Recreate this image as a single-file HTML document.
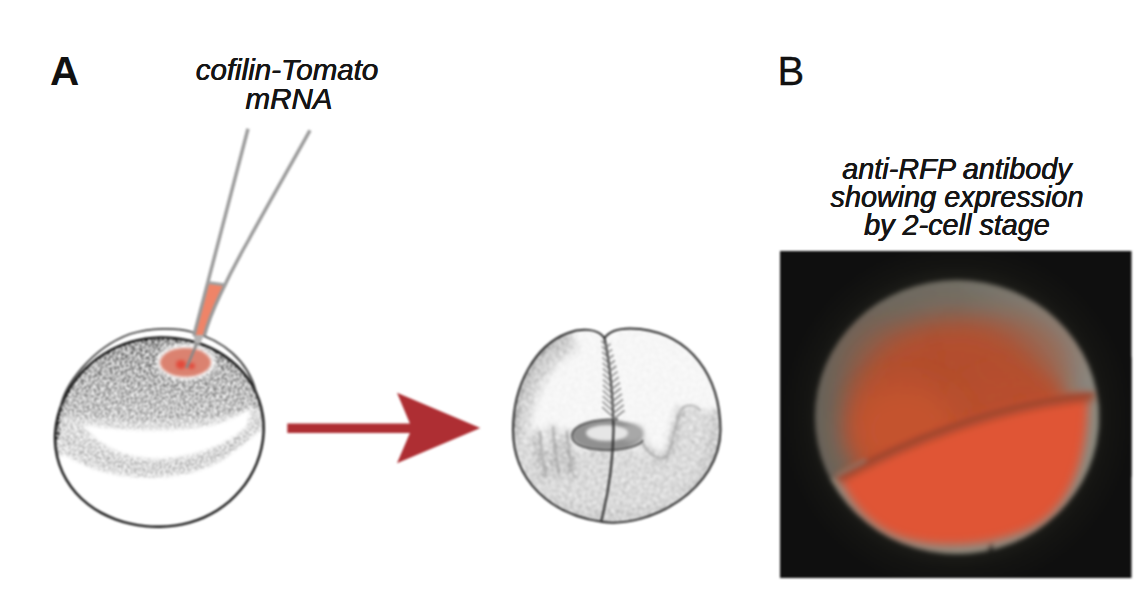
<!DOCTYPE html>
<html><head><meta charset="utf-8">
<style>
html,body{margin:0;padding:0;background:#fff;}
body{width:1148px;height:612px;overflow:hidden;position:relative;font-family:"Liberation Sans",sans-serif;}
.lbl{position:absolute;font-weight:bold;font-size:40.5px;line-height:40px;color:#111;}
.cap{position:absolute;font-style:italic;font-size:28.8px;line-height:28.3px;color:#151515;text-align:center;white-space:nowrap;text-shadow:0.3px 0 0 #151515,-0.3px 0 0 #151515;}
svg{position:absolute;left:0;top:0;filter:blur(0.8px);}
</style></head>
<body>
<svg width="1148" height="612" viewBox="0 0 1148 612">
<defs>
  <filter id="stip" filterUnits="userSpaceOnUse" x="40" y="300" width="700" height="240" color-interpolation-filters="sRGB">
    <feGaussianBlur in="SourceGraphic" stdDeviation="1.8" result="d"/>
    <feTurbulence type="fractalNoise" baseFrequency="0.55" numOctaves="1" seed="4" result="n0"/>
    <feColorMatrix in="n0" type="matrix" values="2.6 0 0 0 -0.8  2.6 0 0 0 -0.8  2.6 0 0 0 -0.8  0 0 0 0 1" result="n"/>
    <feComposite in="d" in2="n" operator="arithmetic" k1="-3.2" k2="2.6" k3="3.2" k4="-1.6" result="s"/>
    
  </filter>
  <filter id="stip2" filterUnits="userSpaceOnUse" x="40" y="300" width="700" height="240" color-interpolation-filters="sRGB">
    <feGaussianBlur in="SourceGraphic" stdDeviation="3.5" result="d"/>
    <feTurbulence type="fractalNoise" baseFrequency="0.55" numOctaves="1" seed="4" result="n0"/>
    <feColorMatrix in="n0" type="matrix" values="2.6 0 0 0 -0.8  2.6 0 0 0 -0.8  2.6 0 0 0 -0.8  0 0 0 0 1" result="n"/>
    <feComposite in="d" in2="n" operator="arithmetic" k1="-3.2" k2="2.6" k3="3.2" k4="-1.6" result="s"/>
    <feGaussianBlur in="s" stdDeviation="0.8"/>
  </filter>
  <linearGradient id="e1g" x1="0" y1="335" x2="0" y2="422" gradientUnits="userSpaceOnUse">
    <stop offset="0" stop-color="#a8a8a8"/><stop offset="0.5" stop-color="#bcbcbc"/><stop offset="1" stop-color="#cccccc"/>
  </linearGradient>
  <clipPath id="egg1"><path d="M55.2 432.0 C55.6 426.5 56.5 421.1 57.9 415.8 C59.2 410.6 61.0 405.4 63.2 400.6 C65.4 395.7 68.0 391.0 70.8 386.6 C73.7 382.2 76.9 378.0 80.3 374.1 C83.7 370.2 87.5 366.6 91.3 363.3 C95.2 360.0 99.3 357.0 103.6 354.3 C107.8 351.6 112.2 349.2 116.8 347.2 C121.3 345.1 126.0 343.4 130.7 342.0 C135.5 340.6 140.4 339.5 145.2 338.7 C150.1 338.0 155.1 337.6 160.0 337.4 C164.9 337.3 169.9 337.5 174.9 338.1 C179.8 338.6 184.8 339.5 189.7 340.6 C194.6 341.8 199.5 343.3 204.2 345.2 C209.0 347.1 213.7 349.3 218.2 351.9 C222.7 354.5 227.1 357.5 231.2 360.8 C235.3 364.1 239.2 367.9 242.7 371.9 C246.2 376.0 249.4 380.4 252.1 385.1 C254.8 389.7 257.1 394.8 258.9 399.9 C260.7 405.0 262.0 410.4 262.8 415.7 C263.6 421.1 263.8 426.6 263.6 432.0 C263.4 437.4 262.7 442.8 261.5 448.1 C260.4 453.3 258.7 458.5 256.7 463.4 C254.7 468.3 252.3 473.1 249.5 477.6 C246.8 482.1 243.7 486.4 240.3 490.3 C236.9 494.3 233.2 498.0 229.4 501.4 C225.5 504.7 221.3 507.8 217.0 510.5 C212.7 513.2 208.2 515.5 203.6 517.6 C199.0 519.6 194.2 521.2 189.4 522.6 C184.6 523.9 179.7 524.9 174.8 525.6 C169.9 526.3 165.0 526.7 160.0 526.7 C155.0 526.8 150.1 526.6 145.1 526.1 C140.1 525.5 135.2 524.7 130.2 523.6 C125.3 522.5 120.4 521.1 115.5 519.3 C110.7 517.5 105.9 515.4 101.3 512.9 C96.6 510.3 92.1 507.4 87.9 504.1 C83.7 500.8 79.6 497.1 76.0 493.0 C72.4 489.0 69.1 484.5 66.3 479.7 C63.5 475.0 61.2 469.9 59.4 464.7 C57.6 459.5 56.4 454.0 55.7 448.5 C55.0 443.1 54.8 437.5 55.2 432.0 Z"/></clipPath>
  <clipPath id="egg2"><path d="M604.5 338 C598 328 580 328 568 333 C535 345 513 385 513 430 C513 480 550 515 603 522 C650 528 720 490 720.5 430 C720 375 690 335 640 329 C622 327 610 330 604.5 338 Z"/></clipPath>
  <filter id="b1" x="-50%" y="-50%" width="200%" height="200%"><feGaussianBlur stdDeviation="1"/></filter>
  <filter id="b15" x="-20%" y="-20%" width="140%" height="140%"><feGaussianBlur stdDeviation="1.5"/></filter>
  <filter id="b2" x="-50%" y="-50%" width="200%" height="200%"><feGaussianBlur stdDeviation="2"/></filter>
  <filter id="b4" x="-50%" y="-50%" width="200%" height="200%"><feGaussianBlur stdDeviation="4"/></filter>
  <filter id="b8" x="-50%" y="-50%" width="200%" height="200%"><feGaussianBlur stdDeviation="8"/></filter>
  <filter id="b14" x="-50%" y="-50%" width="200%" height="200%"><feGaussianBlur stdDeviation="14"/></filter>
  <clipPath id="pegg"><ellipse cx="957" cy="417" rx="142" ry="137"/></clipPath>
  <linearGradient id="rimg" x1="815" y1="0" x2="1099" y2="0" gradientUnits="userSpaceOnUse">
    <stop offset="0" stop-color="#68645b"/><stop offset="0.5" stop-color="#726e64"/><stop offset="1" stop-color="#8c8a82"/>
  </linearGradient>
  <filter id="b22" x="-20%" y="-20%" width="140%" height="140%"><feGaussianBlur stdDeviation="2.2"/></filter>
  <radialGradient id="glow" cx="957" cy="417" r="185" gradientUnits="userSpaceOnUse">
    <stop offset="0.74" stop-color="#1c1c18"/><stop offset="0.82" stop-color="#141412"/><stop offset="0.95" stop-color="#0f0f0f"/>
  </radialGradient>
  <filter id="b3" x="-50%" y="-50%" width="200%" height="200%"><feGaussianBlur stdDeviation="3"/></filter>
  <filter id="b10" x="-50%" y="-50%" width="200%" height="200%"><feGaussianBlur stdDeviation="10"/></filter>
  <clipPath id="panel"><rect x="780" y="251" width="351.5" height="327"/></clipPath>
  <radialGradient id="upg" cx="957" cy="420" r="142" gradientUnits="userSpaceOnUse" gradientTransform="translate(957 420) scale(1 0.965) translate(-957 -420)">
    <stop offset="0" stop-color="#c4542f"/>
    <stop offset="0.55" stop-color="#bd5232"/>
    <stop offset="0.70" stop-color="#a65a40"/>
    <stop offset="0.80" stop-color="#8f7464"/>
    <stop offset="0.90" stop-color="#858076"/>
    <stop offset="1" stop-color="#7c786e"/>
  </radialGradient>
</defs>

<!-- ============ EGG 1 stipple ============ -->
<g clip-path="url(#egg1)">
<g filter="url(#stip)">
  <rect x="40" y="300" width="700" height="240" fill="#fff"/>
  <!-- lower base -->
  <rect x="40" y="400" width="240" height="140" fill="#dedede"/>
  <!-- upper region -->
  <path d="M40 320 L280 320 L280 398 C250 410 220 418 180 421 C140 423 100 418 40 414 Z" fill="url(#e1g)"/>
  <!-- crescent white -->
  <path d="M82 424 C115 430 160 432 200 427 C222 424 238 416 252 407 L247 426 C232 442 200 457 160 459 C125 459 100 448 82 424 Z" fill="#fff"/>
  <path d="M66 438 C88 456 118 467 155 468 C195 468 225 454 246 434" fill="none" stroke="#d6d6d6" stroke-width="7"/>
  <!-- bottom white -->
  <path d="M40 458 L66 455 C84 467 108 475 138 477 C168 479 200 473 222 460 C240 448 255 433 280 416 L280 540 L40 540 Z" fill="#fff"/>
  <!-- rim darkening top -->
  <path d="M56 440 C55 372 100 336 160 336 C220 336 265 370 265 415" fill="none" stroke="#7a7a7a" stroke-width="6"/>
  <!-- halo around spot -->
  <ellipse cx="186" cy="362" rx="30" ry="18.5" fill="#f2f2f2"/>
</g>
</g>
<!-- red spot -->
<ellipse cx="185.5" cy="362.4" rx="25.4" ry="14.4" fill="#db8270" filter="url(#b1)"/>
<ellipse cx="181" cy="364.5" rx="5" ry="4.5" fill="#e2483a" filter="url(#b15)"/>
<ellipse cx="191.5" cy="366" rx="3.5" ry="3" fill="#e2483a" filter="url(#b15)"/>
<!-- outline egg1 -->
<path id="e1o" d="M55.2 432.0 C55.6 426.5 56.5 421.1 57.9 415.8 C59.2 410.6 61.0 405.4 63.2 400.6 C65.4 395.7 68.0 391.0 70.8 386.6 C73.7 382.2 76.9 378.0 80.3 374.1 C83.7 370.2 87.5 366.6 91.3 363.3 C95.2 360.0 99.3 357.0 103.6 354.3 C107.8 351.6 112.2 349.2 116.8 347.2 C121.3 345.1 126.0 343.4 130.7 342.0 C135.5 340.6 140.4 339.5 145.2 338.7 C150.1 338.0 155.1 337.6 160.0 337.4 C164.9 337.3 169.9 337.5 174.9 338.1 C179.8 338.6 184.8 339.5 189.7 340.6 C194.6 341.8 199.5 343.3 204.2 345.2 C209.0 347.1 213.7 349.3 218.2 351.9 C222.7 354.5 227.1 357.5 231.2 360.8 C235.3 364.1 239.2 367.9 242.7 371.9 C246.2 376.0 249.4 380.4 252.1 385.1 C254.8 389.7 257.1 394.8 258.9 399.9 C260.7 405.0 262.0 410.4 262.8 415.7 C263.6 421.1 263.8 426.6 263.6 432.0 C263.4 437.4 262.7 442.8 261.5 448.1 C260.4 453.3 258.7 458.5 256.7 463.4 C254.7 468.3 252.3 473.1 249.5 477.6 C246.8 482.1 243.7 486.4 240.3 490.3 C236.9 494.3 233.2 498.0 229.4 501.4 C225.5 504.7 221.3 507.8 217.0 510.5 C212.7 513.2 208.2 515.5 203.6 517.6 C199.0 519.6 194.2 521.2 189.4 522.6 C184.6 523.9 179.7 524.9 174.8 525.6 C169.9 526.3 165.0 526.7 160.0 526.7 C155.0 526.8 150.1 526.6 145.1 526.1 C140.1 525.5 135.2 524.7 130.2 523.6 C125.3 522.5 120.4 521.1 115.5 519.3 C110.7 517.5 105.9 515.4 101.3 512.9 C96.6 510.3 92.1 507.4 87.9 504.1 C83.7 500.8 79.6 497.1 76.0 493.0 C72.4 489.0 69.1 484.5 66.3 479.7 C63.5 475.0 61.2 469.9 59.4 464.7 C57.6 459.5 56.4 454.0 55.7 448.5 C55.0 443.1 54.8 437.5 55.2 432.0 Z" fill="none" stroke="#151515" stroke-width="2.4"/>
<!-- membrane -->
<path d="M60.5 408 C64 385 92 348 130 334 C150 328 175 327 192 332 C222 340 248 360 256 392" fill="none" stroke="#3a3a3a" stroke-width="1.8"/>

<!-- pipette -->
<path d="M207.6 283 L226.3 285 C218 300 210 320 204.3 336 L194 336 Z" fill="#ef8468"/>
<path d="M194 335 L204 335 L200 344 L194.5 344 Z" fill="#b4b4b4"/>
<path d="M248 128.7 L193.8 336" fill="none" stroke="#9a9a9a" stroke-width="3.4"/>
<path d="M310 130.3 C285 175 262 215 248.6 240 C236 262 227 280 220.1 295 C213 310 208 322 204.3 336" fill="none" stroke="#9a9a9a" stroke-width="3.4"/>
<path d="M207.6 282.5 L226.3 285" stroke="#a0a0a0" stroke-width="3"/>
<line x1="197" y1="343" x2="186.5" y2="368" stroke="#888" stroke-width="2.6"/>

<!-- arrow -->
<path d="M287.3 423.4 L409.9 423.4 L397 392.8 L480.3 428 L397 463.2 L409.9 433 L287.3 433 Z" fill="#ae2e33"/>

<!-- ============ EGG 2 stipple ============ -->
<g clip-path="url(#egg2)">
<g filter="url(#stip2)">
  <rect x="500" y="320" width="240" height="220" fill="#f7f7f7"/>
  <!-- left edge bands -->
  <path d="M572 334 C540 348 514 390 512 435 C511 470 523 495 543 510" fill="none" stroke="#dadada" stroke-width="34"/>
  <path d="M566 336 C535 350 514 392 512 435 C511 468 520 490 536 505" fill="none" stroke="#c2c2c2" stroke-width="12"/>
  <!-- lower half -->
  <path d="M500 440 L540 436 C544 446 548 452 552 454 C556 444 560 432 566 436 C570 446 575 452 582 450 L600 446 L626 446 C640 450 650 462 664 460 C672 456 672 424 681 410 C690 402 702 410 712 418 L740 418 L740 540 L500 540 Z" fill="#dcdcdc"/>
  <!-- fingers -->
  <path d="M538 430 C539 448 541 462 544 478 M552 426 C553 444 555 460 558 476 M566 430 C567 448 569 462 572 478" fill="none" stroke="#b0b0b0" stroke-width="5"/>
  <!-- right U -->
  <path d="M642 440 C648 452 655 459 664 458 C672 455 674 425 681 408" fill="none" stroke="#b8b8b8" stroke-width="5"/>
  <!-- right edge band -->
  <path d="M717 410 C720 450 705 490 675 512" fill="none" stroke="#d0d0d0" stroke-width="16"/>
  <!-- bottom -->
  <path d="M540 500 C570 520 640 525 690 500" fill="none" stroke="#d4d4d4" stroke-width="16"/>
</g>
</g>
<!-- fingers / U (direct) -->
<g fill="none" stroke="#a8a8a8" stroke-width="3" opacity="0.55" stroke-linecap="round">
  <path d="M540 432 C541 448 543 462 546 476 M553 428 C554 444 556 458 559 472 M567 432 C568 446 570 458 572 470"/>
  <path d="M642 442 C648 453 655 459 664 458 C672 455 674 425 681 410 C686 404 694 404 700 410"/>
</g>
<!-- ring -->
<ellipse cx="607" cy="435" rx="35" ry="15.4" fill="#909090" filter="url(#b1)"/>
<ellipse cx="632" cy="433" rx="12" ry="9" fill="#a8a8a8" filter="url(#b2)"/>
<path d="M618 419.5 C595 419 572 424 572 436 C572 446 590 450.5 610 450 C625 449.5 640 446 643 440" fill="none" stroke="#5a5a5a" stroke-width="1.8"/>
<ellipse cx="607" cy="433" rx="21" ry="8" fill="#e6e6e6" filter="url(#b1)"/>
<!-- egg2 outline -->
<path d="M604.5 338 C598 328 580 328 568 333 C535 345 513 385 513 430 C513 480 550 515 603 522 C650 528 720 490 720.5 430 C720 375 690 335 640 329 C622 327 610 330 604.5 338 Z" fill="none" stroke="#262626" stroke-width="2"/>
<!-- furrow -->
<path d="M604.5 338 C610 365 613 400 613.5 430 C613 460 608 495 601 522" fill="none" stroke="#333" stroke-width="2.2"/>
<!-- herringbone -->
<path stroke="#8a8a8a" stroke-width="1.6" fill="none" d="M605.8 345.0l-4.5 -4.1M605.8 347.5l4.7 -3.7M606.9 351.0l-5.0 -4.6M606.9 353.5l5.2 -4.2M607.8 357.0l-5.6 -5.1M607.8 359.5l5.8 -4.6M608.6 363.0l-6.1 -5.5M608.6 365.5l6.4 -5.1M609.4 369.0l-6.7 -6.0M609.4 371.5l6.9 -5.5M610.1 375.0l-7.2 -6.5M610.1 377.5l7.5 -6.0M610.7 381.0l-7.7 -7.0M610.7 383.5l8.0 -6.4M611.3 387.0l-8.3 -7.5M611.3 389.5l8.6 -6.8M611.7 393.0l-8.8 -8.0M611.7 395.5l9.2 -7.3M612.2 399.0l-9.4 -8.5M612.2 401.5l9.7 -7.7M612.6 405.0l-9.9 -9.0M612.6 407.5l10.3 -8.2M612.9 411.0l-10.4 -9.5M612.9 413.5l10.9 -8.6M613.1 417.0l-11.0 -10.0M613.1 419.5l11.4 -9.1"/>

<!-- ============ PANEL B photo ============ -->
<rect x="780" y="251" width="351.5" height="327" fill="#0f0f0f"/>
<g clip-path="url(#panel)">
 <ellipse cx="957" cy="417" rx="185" ry="180" fill="url(#glow)"/>
 <g filter="url(#b22)">
  <ellipse cx="957" cy="417" rx="142" ry="137" fill="url(#rimg)"/>
  <g clip-path="url(#pegg)">
    <ellipse cx="951" cy="419" rx="104" ry="101" fill="#b4502f" filter="url(#b14)"/>
    <ellipse cx="1012" cy="398" rx="52" ry="26" fill="#b9502f" filter="url(#b10)"/>
    <ellipse cx="1010" cy="365" rx="62" ry="50" fill="#b4502f" opacity="0.45" filter="url(#b14)"/>
    <ellipse cx="880" cy="370" rx="40" ry="50" fill="#b4502f" opacity="0.25" filter="url(#b14)"/>
    <ellipse cx="905" cy="430" rx="55" ry="45" fill="#c4532f" filter="url(#b14)"/>
    <!-- lower cell rim -->
    <path d="M836 479 C900 440 1000 400 1096 393 L1110 400 L1110 580 L800 580 L800 470 Z" fill="#8a8a80"/>
    <path d="M838 478 C900 440 1000 400 1088 394 C1089 440 1079 497 1040 523 C1002 546 945 550 905 539 C875 530 853 508 842 483 Z" fill="#e05535" filter="url(#b4)"/>
    <!-- furrow dark line -->
    <path d="M838 480 C900 444 1000 404 1094 397" fill="none" stroke="#9e4529" stroke-width="7" filter="url(#b3)"/>
    <path d="M838 478.5 C900 441 1000 401 1094 394" fill="none" stroke="#9a4129" stroke-width="2.5" filter="url(#b1)"/>
    <path d="M836 476 C845 471 855 466 866 460" fill="none" stroke="#8f7a6c" stroke-width="3" filter="url(#b1)"/>
  </g>
  <!-- notch at bottom -->
  <path d="M987 551 L991.5 543 L995 551 Z" fill="#222"/>
 </g>
</g>
</svg>

<div class="lbl" style="left:50px;top:51px;">A</div>
<div class="lbl" style="left:777.5px;top:51px;font-weight:normal;font-size:40px;-webkit-text-stroke:0.3px #111;">B</div>
<div class="cap" style="left:187px;top:55px;width:200px;font-size:29.5px;line-height:29px;">cofilin-Tomato<br><span style="position:relative;left:2px">mRNA</span></div>
<div class="cap" style="left:807px;top:154.6px;width:300px;">anti-RFP antibody<br>showing expression<br>by 2-cell stage</div>
</body></html>
